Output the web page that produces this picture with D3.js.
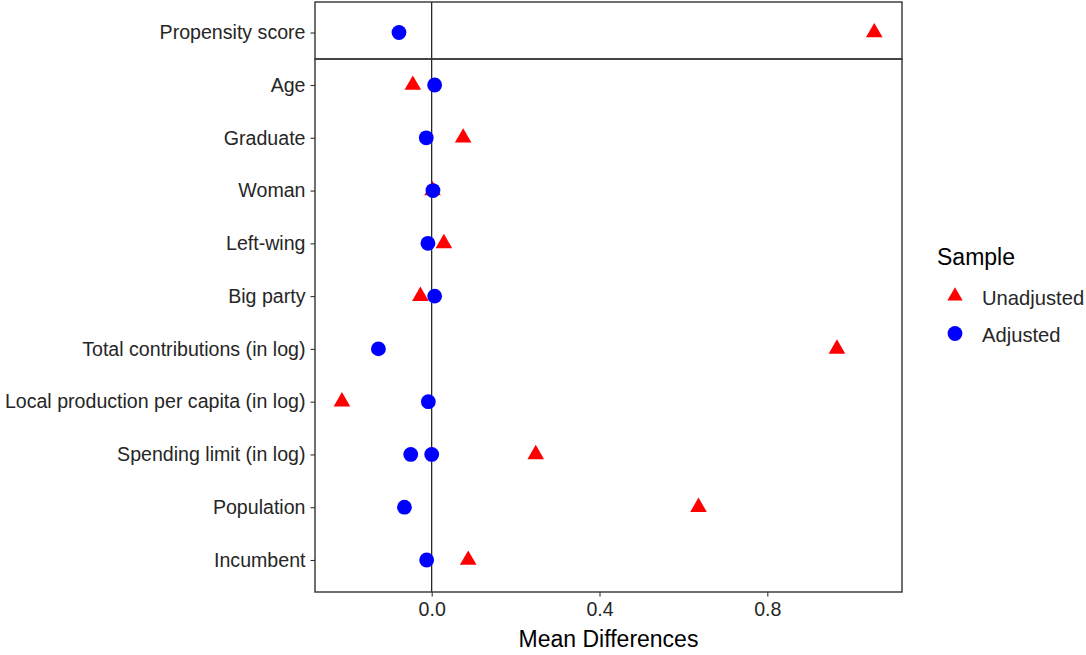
<!DOCTYPE html>
<html>
<head>
<meta charset="utf-8">
<script src="https://cdn.jsdelivr.net/npm/d3@7"></script>
<style>
  html, body { margin: 0; padding: 0; background: #fff; }
  svg { display: block; font-family: "Liberation Sans", Arial, sans-serif; }
</style>
</head>
<body>
<svg id="chart" width="1086" height="655"></svg>
<script>
// Covariate balance: mean differences before and after adjustment
const topVariables = ["Propensity score"];
const variables = [
  "Age", "Graduate", "Woman", "Left-wing", "Big party",
  "Total contributions (in log)", "Local production per capita (in log)",
  "Spending limit (in log)", "Population", "Incumbent"
];

// Unadjusted sample (one value per variable, in order)
const unadjustedTop = [1.055];
const unadjusted = [-0.045, 0.075, 0.002, 0.029, -0.027, 0.966, -0.214, 0.248, 0.636, 0.087];

// Adjusted sample (variable, value); spending limit appears twice
const adjustedTop = [["Propensity score", -0.078]];
const adjusted = [
  ["Age", 0.007], ["Graduate", -0.013], ["Woman", 0.003], ["Left-wing", -0.009],
  ["Big party", 0.007], ["Total contributions (in log)", -0.127],
  ["Local production per capita (in log)", -0.008],
  ["Spending limit (in log)", -0.05], ["Spending limit (in log)", 0.0],
  ["Population", -0.065], ["Incumbent", -0.012]
];

const xTicks = [0, 0.4, 0.8];
const sampleLabels = ["Unadjusted", "Adjusted"];
const sampleColors = ["#ff0000", "#0000ff"];

const svg = d3.select("#chart");

const panel = { left: 315, right: 902, top: 2, split: 59, bottom: 592 };

const x = d3.scaleLinear().domain([-0.2782, 1.1211]).range([panel.left, panel.right]);
const yTop = d3.scalePoint().domain(topVariables).range([32.5, 32.5]);
const y = d3.scalePoint().domain(variables).range([85, 560]);

const color = d3.scaleOrdinal().domain(sampleLabels).range(sampleColors);

// R-style filled triangle (pch 17) centred on its circumcentre
function triangle(cx, cy, r) {
  const h = r * Math.sqrt(3) / 2;
  return `M${cx},${cy - r}L${cx + h},${cy + r / 2}L${cx - h},${cy + r / 2}Z`;
}
const triR = 9.6;
const dotR = 7.4;

// Zero reference line
svg.append("line")
  .attr("x1", x(0)).attr("x2", x(0))
  .attr("y1", panel.top).attr("y2", panel.bottom)
  .attr("stroke", "#000").attr("stroke-width", 1.1);

// Unadjusted points (triangles)
const unadjData = topVariables.map((v, i) => ({ v, val: unadjustedTop[i], yy: yTop(v) }))
  .concat(variables.map((v, i) => ({ v, val: unadjusted[i], yy: y(v) })));
svg.append("g").selectAll("path").data(unadjData).join("path")
  .attr("d", d => triangle(x(d.val), d.yy, triR))
  .attr("fill", color("Unadjusted"));

// Adjusted points (circles)
const adjData = adjustedTop.map(([v, val]) => ({ v, val, yy: yTop(v) }))
  .concat(adjusted.map(([v, val]) => ({ v, val, yy: y(v) })));
svg.append("g").selectAll("circle").data(adjData).join("circle")
  .attr("cx", d => x(d.val)).attr("cy", d => d.yy).attr("r", dotR)
  .attr("fill", color("Adjusted"));

// Panel frames
const frame = svg.append("g").attr("fill", "none").attr("stroke", "#333").attr("stroke-width", 1.4);
frame.append("rect")
  .attr("x", panel.left).attr("y", panel.top)
  .attr("width", panel.right - panel.left).attr("height", panel.split - panel.top);
frame.append("rect")
  .attr("x", panel.left).attr("y", panel.split)
  .attr("width", panel.right - panel.left).attr("height", panel.bottom - panel.split);

// Y axes
function styleAxis(g) {
  g.select(".domain").remove();
  g.selectAll(".tick line").attr("stroke", "#333").attr("stroke-width", 1.1);
  g.selectAll(".tick text").attr("fill", "#262626").attr("font-size", 19.6)
    .attr("font-family", "Liberation Sans, Arial, sans-serif");
}
svg.append("g").attr("transform", `translate(${panel.left},0)`)
  .call(d3.axisLeft(yTop).tickSize(4.5).tickPadding(5))
  .call(styleAxis);
svg.append("g").attr("transform", `translate(${panel.left},0)`)
  .call(d3.axisLeft(y).tickSize(4.5).tickPadding(5))
  .call(styleAxis);

// X axis
svg.append("g").attr("transform", `translate(0,${panel.bottom})`)
  .call(d3.axisBottom(x).tickValues(xTicks).tickFormat(d3.format(".1f")).tickSize(4.5).tickPadding(6))
  .call(styleAxis);

svg.append("text")
  .attr("x", (panel.left + panel.right) / 2).attr("y", 647)
  .attr("text-anchor", "middle").attr("font-size", 23).attr("fill", "#000")
  .text("Mean Differences");

// Legend
const legend = svg.append("g");
legend.append("text").attr("x", 937).attr("y", 265)
  .attr("font-size", 23).attr("fill", "#000").text("Sample");
const legendY = [296, 333.5];
legend.append("path").attr("d", triangle(955, legendY[0], 8.8)).attr("fill", color("Unadjusted"));
legend.append("circle").attr("cx", 955).attr("cy", legendY[1]).attr("r", dotR).attr("fill", color("Adjusted"));
legend.selectAll("text.lab").data(sampleLabels).join("text")
  .attr("class", "lab")
  .attr("x", 982).attr("y", (d, i) => legendY[i] + (i === 0 ? 2 : 1.5))
  .attr("dy", "0.35em").attr("font-size", 20.2).attr("fill", "#262626")
  .text(d => d);
</script>
</body>
</html>
